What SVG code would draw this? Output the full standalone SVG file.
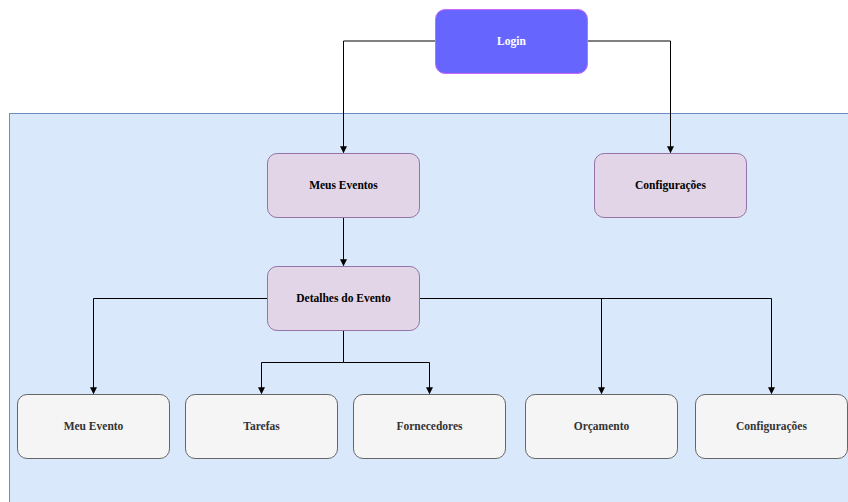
<svg xmlns="http://www.w3.org/2000/svg" width="848" height="502" viewBox="0 0 848 502">
  <defs>
    <marker id="arrow" viewBox="0 0 10 10" refX="9" refY="5" markerWidth="7" markerHeight="7" orient="auto" markerUnits="userSpaceOnUse">
      <path d="M0,0 L10,5 L0,10 Z" fill="#000000"/>
    </marker>
    <style>
      .lbl { font-family: "Liberation Serif", "Times New Roman", serif; font-size: 11.5px; font-weight: bold; text-anchor: middle; dominant-baseline: central; }
      .top { fill: #6666ff; stroke: #cc66ff; stroke-width: 1; }
      .mid { fill: #e1d5e7; stroke: #9673a6; stroke-width: 1; }
      .leaf { fill: #f5f5f5; stroke: #666666; stroke-width: 1; }
      .edge { fill: none; stroke: #000000; stroke-width: 1; marker-end: url(#arrow); }
    </style>
  </defs>

  <!-- application area -->
  <rect id="area" x="9.5" y="113.5" width="850" height="400" fill="#dae8fc" stroke="#6c8ebf" stroke-width="1"/>

  <g id="connectors">
    <path class="edge" d="M435,41 H343.5 V152.5"/>
    <path class="edge" d="M587,41 H670.5 V152.5"/>
    <path class="edge" d="M343.5,217 V265.5"/>
    <path class="edge" d="M267,298.5 H93.5 V393.5"/>
    <path class="edge" d="M343.5,330 V362.5 H261.5 V393.5"/>
    <path class="edge" d="M343.5,362.5 H429.5 V393.5"/>
    <path class="edge" d="M419,298.5 H601.5 V393.5"/>
    <path class="edge" d="M419,298.5 H771.5 V393.5"/>
  </g>

  <g id="login">
    <rect class="top" x="435.5" y="9.5" width="152" height="64" rx="9.6"/>
    <text class="lbl" x="511.5" y="40.5" fill="#ffffff">Login</text>
  </g>
  <g id="meus-eventos">
    <rect class="mid" x="267.5" y="153.5" width="152" height="64" rx="9.6"/>
    <text class="lbl" x="343.5" y="184.5" fill="#000000">Meus Eventos</text>
  </g>
  <g id="configuracoes-app">
    <rect class="mid" x="594.5" y="153.5" width="152" height="64" rx="9.6"/>
    <text class="lbl" x="670.5" y="184.5" fill="#000000">Configurações</text>
  </g>
  <g id="detalhes-evento">
    <rect class="mid" x="267.5" y="266.5" width="152" height="64" rx="9.6"/>
    <text class="lbl" x="343.5" y="297.5" fill="#000000">Detalhes do Evento</text>
  </g>
  <g id="meu-evento">
    <rect class="leaf" x="17.5" y="394.5" width="152" height="64" rx="9.6"/>
    <text class="lbl" x="93.5" y="425.5" fill="#333333">Meu Evento</text>
  </g>
  <g id="tarefas">
    <rect class="leaf" x="185.5" y="394.5" width="152" height="64" rx="9.6"/>
    <text class="lbl" x="261.5" y="425.5" fill="#333333">Tarefas</text>
  </g>
  <g id="fornecedores">
    <rect class="leaf" x="353.5" y="394.5" width="152" height="64" rx="9.6"/>
    <text class="lbl" x="429.5" y="425.5" fill="#333333">Fornecedores</text>
  </g>
  <g id="orcamento">
    <rect class="leaf" x="525.5" y="394.5" width="152" height="64" rx="9.6"/>
    <text class="lbl" x="601.5" y="425.5" fill="#333333">Orçamento</text>
  </g>
  <g id="configuracoes-evento">
    <rect class="leaf" x="695.5" y="394.5" width="152" height="64" rx="9.6"/>
    <text class="lbl" x="771.5" y="425.5" fill="#333333">Configurações</text>
  </g>
</svg>
